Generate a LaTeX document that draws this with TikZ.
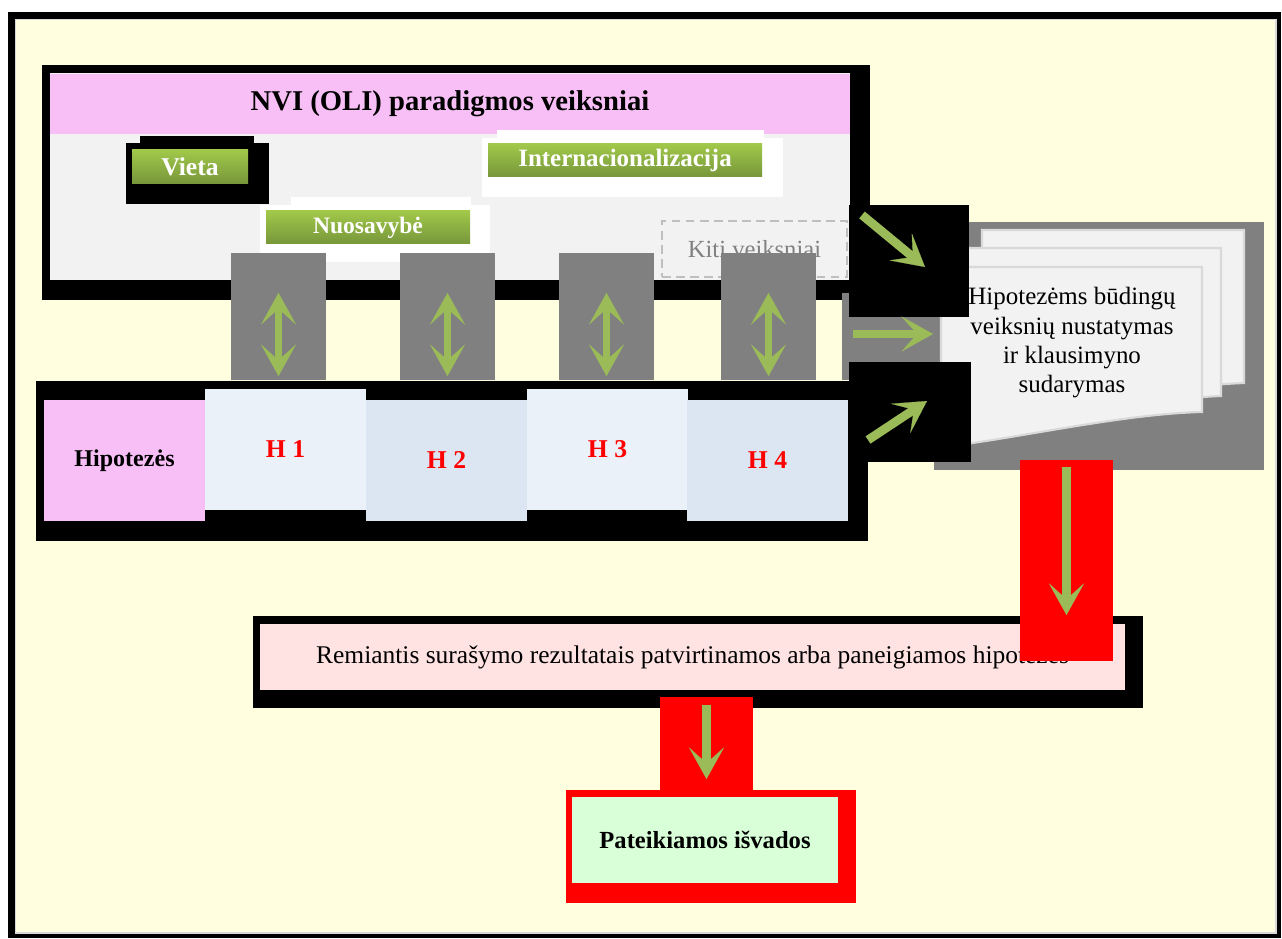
\documentclass[tikz,border=0pt]{standalone}
\usepackage{fontspec}
\setmainfont{Liberation Serif}
\usepackage{xcolor}
\usetikzlibrary{positioning,calc,arrows.meta}
\definecolor{gelb}{RGB}{255,255,224}
\definecolor{rosa}{RGB}{248,191,246}
\definecolor{rosahell}{RGB}{255,226,226}
\definecolor{hellgrau}{RGB}{242,242,242}
\definecolor{dgrau}{RGB}{128,128,128}
\definecolor{strich}{RGB}{191,191,191}
\definecolor{agruen}{RGB}{155,187,89}
\definecolor{gruenoben}{RGB}{161,200,74}
\definecolor{gruenunten}{RGB}{119,150,58}
\definecolor{hblaua}{RGB}{235,241,248}
\definecolor{hblaub}{RGB}{220,230,242}
\definecolor{mint}{RGB}{217,255,217}
\definecolor{seitenrand}{RGB}{217,217,217}

\begin{document}
\begin{tikzpicture}[x=0.02cm,y=-0.02cm]

	% Kaesten in Pixelmass
	\tikzset{px/.style 2 args={anchor=north west,inner sep=0pt,outer sep=0pt,minimum width=#1*0.02cm,minimum height=#2*0.02cm}}
	\tikzstyle{gruenbox}=[top color=gruenoben,bottom color=gruenunten,text=white,font=\bfseries\fontsize{14.2}{17}\selectfont]
	\tikzstyle{hbox}=[text=red,font=\bfseries\fontsize{14.6}{17}\selectfont]
	\tikzstyle{pfeil}=[draw=agruen,line width=5pt,->]
	\tikzstyle{dpfeil}=[draw=agruen,line width=4.5pt,<->]
	\tikzset{>={Stealth[length=18pt,width=20pt,inset=9pt,line width=0.1pt]}}
	
	\useasboundingbox (0,0) rectangle (1282,939);
	
	% Rahmen
	\fill[black] (8,12) rectangle (1281,938);
	\fill[seitenrand] (15,19) rectangle (1277,934);
	\fill[gelb] (16,20) rectangle (1275,932);
	
	% NVI-Block
	\node[px={828}{235},fill=black] (nvibg) at (42,65) {};
	\node[px={800}{207},fill=hellgrau] (nvikoerper) at (50,73) {};
	\node[px={800}{60},fill=rosa,font=\bfseries\fontsize{16.3}{20}\selectfont] (nvi) at (50,74) {NVI (OLI) paradigmos veiksniai};
	
	% Vieta
	\node[px={143}{61},fill=black] (vietabg) at (126,143) {};
	\node[px={114}{8},fill=black] (vietabgo) at (140,136) {};
	\node[px={116}{34},gruenbox,font=\bfseries\fontsize{14.6}{17}\selectfont] (vieta) at (132,150) {Vieta};
	
	% Internacionalizacija
	\node[px={301}{59},fill=white] (intbg) at (482,138) {};
	\node[px={267}{9},fill=white] (intbgo) at (497,130) {};
	\node[px={274}{33},gruenbox] (inter) at (488,144) {Internacionalizacija};
	
	% Nuosavybe
	\node[px={230}{57},fill=white] (nuobg) at (260,205) {};
	\node[px={180}{9},fill=white] (nuobgo) at (291,197) {};
	\node[px={204}{33},gruenbox,font=\bfseries\fontsize{13.4}{17}\selectfont] (nuo) at (266,211) {Nuosavybė};
	
	% Kiti veiksniai
	\node[px={185}{56},draw=strich,line width=1.3pt,dash pattern=on 5pt off 3pt,text=dgrau,font=\fontsize{14}{16}\selectfont] (kiti) at (662,221) {Kiti veiksniai};
	
	% Hipotezes
	\node[px={832}{160},fill=black] (hypbg) at (36,381) {};
	\node[px={161}{121},fill=rosa,font=\bfseries\fontsize{13.7}{17}\selectfont] (hyp) at (44,400) {Hipotezės};
	\foreach \n/\x/\y/\f in {1/205/389/hblaua,2/366/400/hblaub,3/527/389/hblaua,4/687/400/hblaub}
		\node[px={161}{121},fill=\f,hbox] (h\n) at (\x,\y) {H \n};
	
	% Verbindungen Faktoren - Hypothesen
	\foreach \n/\x in {1/231,2/400,3/559,4/721}{
		\node[px={95}{127},fill=dgrau] (g\n) at (\x,253) {};
		\draw[dpfeil] ($(g\n.north)+(0,40)$) -- ($(g\n.south)+(0,-4)$);
	}
	
	% Dokumente
	\fill[dgrau] (934,222) rectangle (1264,470);
	\fill[dgrau] (842,293) rectangle (934,380);
	\filldraw[fill=hellgrau,draw=seitenrand,line width=1.2pt] (982,230) -- (1244,230) -- (1244,383) .. controls (1170,386) and (1060,405) .. (982,415) -- cycle;
	\filldraw[fill=hellgrau,draw=seitenrand,line width=1.2pt] (968,248) -- (1221,248) -- (1221,396) .. controls (1145,399) and (1040,422) .. (968,432) -- cycle;
	\filldraw[fill=hellgrau,draw=seitenrand,line width=1.2pt] (941,267) -- (1202,267) -- (1202,412) .. controls (1120,414) and (1010,440) .. (941,447) -- cycle;
	\node[align=center,font=\fontsize{14.2}{16.7}\selectfont] (dok) at (1072,343) {Hipotezėms būdingų\\veiksnių nustatymas\\ir klausimyno\\sudarymas};
	
	% Pfeile zum Dokument
	\node[px={120}{112},fill=black] (q1) at (849,205) {};
	\node[px={122}{100},fill=black] (q2) at (849,362) {};
	\coordinate (p1a) at (862,215);
	\coordinate (p1b) at (925,267);
	\coordinate (p2a) at (853,334);
	\coordinate (p2b) at (933,334);
	\coordinate (p3a) at (868,440);
	\coordinate (p3b) at (927,401);
	\draw[pfeil] (p1a) -- (p1b);
	\draw[pfeil] (p2a) -- (p2b);
	\draw[pfeil] (p3a) -- (p3b);
	
	% Ergebnis
	\node[px={890}{92},fill=black] (remibg) at (253,616) {};
	\node[px={865}{66},fill=rosahell,font=\fontsize{14.5}{17}\selectfont] (remi) at (260,624) {Remiantis surašymo rezultatais patvirtinamos arba paneigiamos hipotezes};
	\node[px={93}{201},fill=red] (rot1) at (1020,460) {};
	\draw[pfeil] ($(rot1.north)+(0,7)$) -- ($(rot1.north)+(0,155)$);
	
	% Schlussfolgerungen
	\node[px={93}{93},fill=red] (rot2) at (660,697) {};
	\draw[pfeil] ($(rot2.north)+(0,8)$) -- ($(rot2.north)+(0,82)$);
	\node[px={290}{113},fill=red] (ausbg) at (566,790) {};
	\node[px={266}{86},fill=mint,font=\bfseries\fontsize{14}{18}\selectfont] (aus) at (572,797) {Pateikiamos išvados};
	
\end{tikzpicture}
\end{document}
